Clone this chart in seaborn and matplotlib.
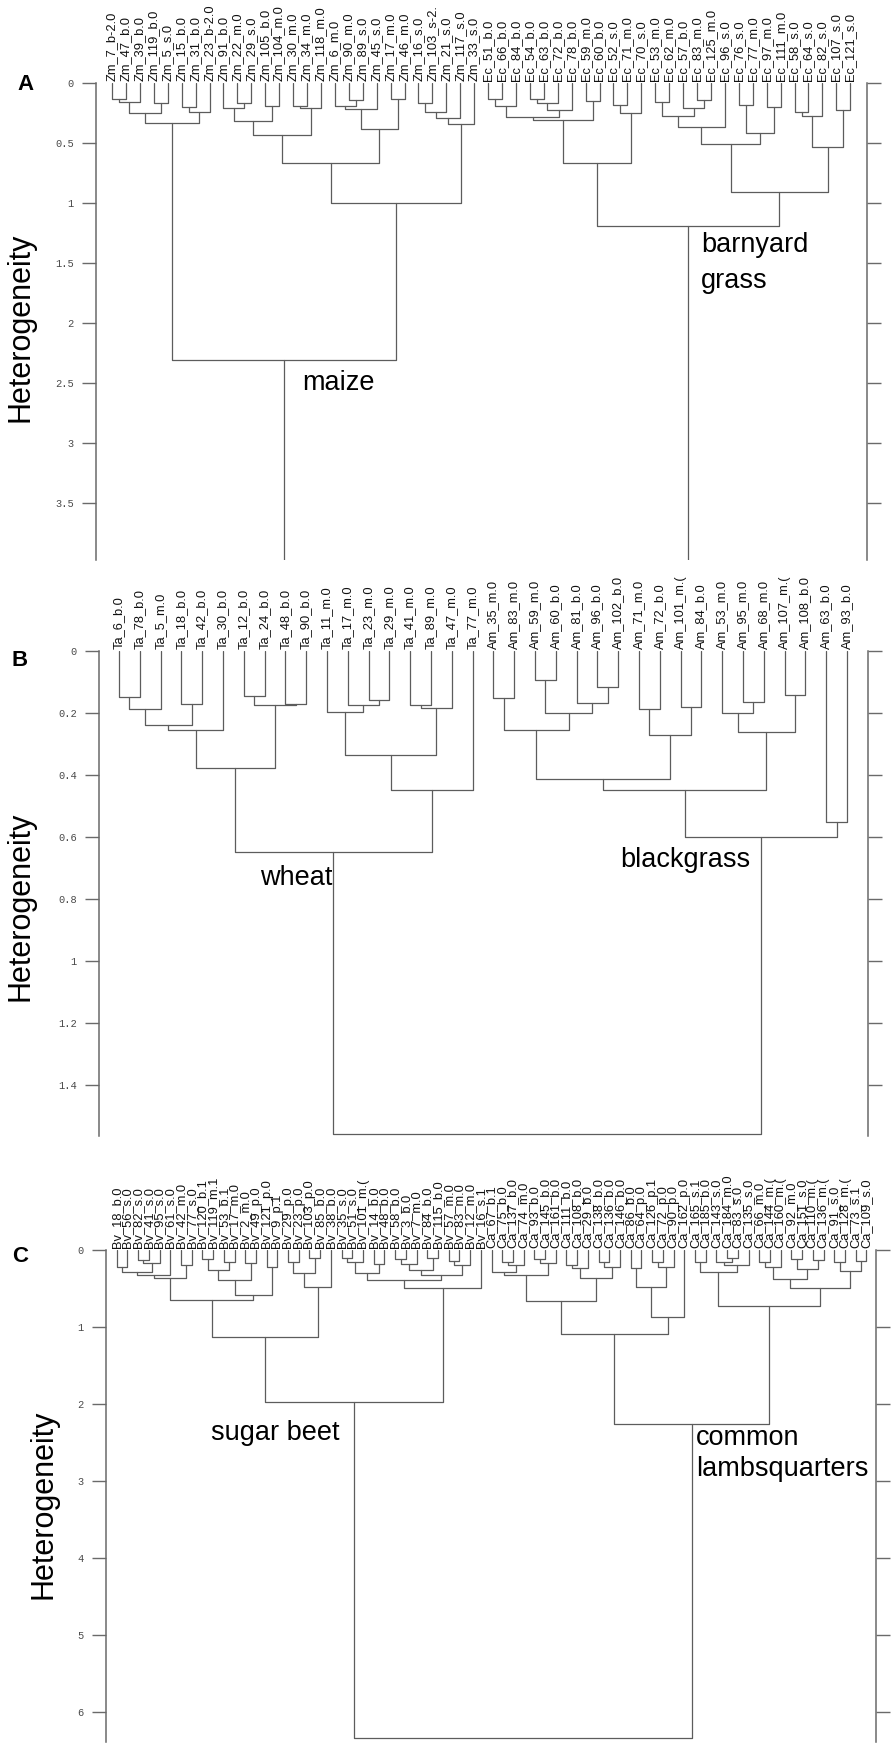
import matplotlib
matplotlib.use("Agg")
import matplotlib.pyplot as plt
from matplotlib.transforms import offset_copy
import seaborn as sns
import pandas as pd

# ---------------- data ----------------
maize_leaves = ["Zm_7_b-2.0", "Zm_47_b.0", "Zm_39_b.0", "Zm_119_b.0", "Zm_5_s.0", "Zm_15_b.0",
                "Zm_31_b.0", "Zm_23_b-2.0", "Zm_91_b.0", "Zm_22_m.0", "Zm_29_s.0", "Zm_105_b.0",
                "Zm_104_m.0", "Zm_30_m.0", "Zm_34_m.0", "Zm_118_m.0", "Zm_6_m.0", "Zm_90_m.0",
                "Zm_89_s.0", "Zm_45_s.0", "Zm_17_m.0", "Zm_46_m.0", "Zm_16_s.0", "Zm_103_s-2.",
                "Zm_21_s.0", "Zm_117_s.0", "Zm_33_s.0"]
barnyard_leaves = ["Ec_51_b.0", "Ec_66_b.0", "Ec_84_b.0", "Ec_54_b.0", "Ec_63_b.0", "Ec_72_b.0",
                   "Ec_78_b.0", "Ec_59_m.0", "Ec_60_b.0", "Ec_52_s.0", "Ec_71_m.0", "Ec_70_s.0",
                   "Ec_53_m.0", "Ec_62_m.0", "Ec_57_b.0", "Ec_83_m.0", "Ec_125_m.0", "Ec_96_s.0",
                   "Ec_76_s.0", "Ec_77_m.0", "Ec_97_m.0", "Ec_111_m.0", "Ec_58_s.0", "Ec_64_s.0",
                   "Ec_82_s.0", "Ec_107_s.0", "Ec_121_s.0"]
wheat_leaves = ["Ta_6_b.0", "Ta_78_b.0", "Ta_5_m.0", "Ta_18_b.0", "Ta_42_b.0", "Ta_30_b.0",
                "Ta_12_b.0", "Ta_24_b.0", "Ta_48_b.0", "Ta_90_b.0", "Ta_11_m.0", "Ta_17_m.0",
                "Ta_23_m.0", "Ta_29_m.0", "Ta_41_m.0", "Ta_89_m.0", "Ta_47_m.0", "Ta_77_m.0"]
blackgrass_leaves = ["Am_35_m.0", "Am_83_m.0", "Am_59_m.0", "Am_60_b.0", "Am_81_b.0", "Am_96_b.0",
                     "Am_102_b.0", "Am_71_m.0", "Am_72_b.0", "Am_101_m.(", "Am_84_b.0", "Am_53_m.0",
                     "Am_95_m.0", "Am_68_m.0", "Am_107_m.(", "Am_108_b.0", "Am_63_b.0", "Am_93_b.0"]
beet_leaves = ["Bv_18_b.0", "Bv_56_s.0", "Bv_82_s.0", "Bv_41_s.0", "Bv_95_s.0", "Bv_61_s.0",
               "Bv_42_m.0", "Bv_77_s.0", "Bv_120_b.1", "Bv_119_m.1", "Bv_53_b.1", "Bv_17_m.0",
               "Bv_2_m.0", "Bv_49_p.0", "Bv_121_p.0", "Bv_9_p.1", "Bv_29_p.0", "Bv_23_p.0",
               "Bv_103_p.0", "Bv_85_b.0", "Bv_38_b.0", "Bv_35_s.0", "Bv_51_s.0", "Bv_101_m.(",
               "Bv_14_b.0", "Bv_48_b.0", "Bv_58_b.0", "Bv_3_b.0", "Bv_7_m.0", "Bv_84_b.0",
               "Bv_115_b.0", "Bv_57_m.0", "Bv_83_m.0", "Bv_12_m.0", "Bv_16_s.1"]
lambs_leaves = ["Ca_67_b.1", "Ca_75_b.0", "Ca_137_b.0", "Ca_74_m.0", "Ca_93_b.0", "Ca_145_b.0",
                "Ca_161_b.0", "Ca_111_b.0", "Ca_108_b.0", "Ca_29_b.0", "Ca_138_b.0", "Ca_136_b.0",
                "Ca_146_b.0", "Ca_86_b.0", "Ca_64_p.0", "Ca_126_p.1", "Ca_72_p.0", "Ca_90_p.0",
                "Ca_162_p.0", "Ca_165_s.1", "Ca_185_b.0", "Ca_143_s.0", "Ca_184_m.0", "Ca_83_s.0",
                "Ca_135_s.0", "Ca_66_m.0", "Ca_144_m.(", "Ca_160_m.(", "Ca_92_m.0", "Ca_151_s.0",
                "Ca_110_m.(", "Ca_136_m.(", "Ca_91_s.0", "Ca_128_m.(", "Ca_73_s.1", "Ca_109_s.0"]

# merges: (first leaf, split leaf, end leaf (exclusive), heterogeneity)
merges_A = [(0, 1, 2, 0.13), (0, 2, 3, 0.155), (3, 4, 5, 0.17), (0, 3, 5, 0.25), (5, 6, 7, 0.20),
            (5, 7, 8, 0.24), (0, 5, 8, 0.33), (9, 10, 11, 0.17), (8, 9, 11, 0.21), (11, 12, 13, 0.19),
            (8, 11, 13, 0.32), (13, 14, 15, 0.19), (13, 15, 16, 0.21), (8, 13, 16, 0.43),
            (17, 18, 19, 0.14), (16, 17, 19, 0.19), (16, 19, 20, 0.22), (20, 21, 22, 0.13),
            (16, 20, 22, 0.38), (8, 16, 22, 0.67), (22, 23, 24, 0.17), (22, 24, 25, 0.24),
            (22, 25, 26, 0.29), (22, 26, 27, 0.34), (8, 22, 27, 1.0), (0, 8, 27, 2.31),
            (27, 28, 29, 0.137), (27, 29, 30, 0.19), (30, 31, 32, 0.136), (30, 32, 33, 0.17),
            (30, 33, 34, 0.225), (27, 30, 34, 0.28), (34, 35, 36, 0.147), (27, 34, 36, 0.31),
            (36, 37, 38, 0.183), (36, 38, 39, 0.253), (27, 36, 39, 0.67), (39, 40, 41, 0.155),
            (42, 43, 44, 0.14), (41, 42, 44, 0.21), (39, 41, 44, 0.275), (39, 44, 45, 0.37),
            (45, 46, 47, 0.183), (47, 48, 49, 0.20), (45, 47, 49, 0.414), (39, 45, 49, 0.508),
            (49, 50, 51, 0.239), (49, 51, 52, 0.275), (52, 53, 54, 0.225), (49, 52, 54, 0.53),
            (39, 49, 54, 0.91), (27, 39, 54, 1.19), (0, 27, 54, 4.3)]

merges_B = [(0, 1, 2, 0.149), (0, 2, 3, 0.187), (3, 4, 5, 0.172), (0, 3, 5, 0.240), (0, 5, 6, 0.255),
            (6, 7, 8, 0.145), (8, 9, 10, 0.170), (6, 8, 10, 0.174), (0, 6, 10, 0.378),
            (12, 13, 14, 0.158), (11, 12, 14, 0.175), (10, 11, 14, 0.198), (14, 15, 16, 0.174),
            (14, 16, 17, 0.185), (10, 14, 17, 0.335), (10, 17, 18, 0.448), (0, 10, 18, 0.647),
            (18, 19, 20, 0.153), (20, 21, 22, 0.094), (23, 24, 25, 0.115), (22, 23, 25, 0.169),
            (20, 22, 25, 0.201), (18, 20, 25, 0.255), (25, 26, 27, 0.187), (27, 28, 29, 0.180),
            (25, 27, 29, 0.271), (18, 25, 29, 0.412), (30, 31, 32, 0.166), (29, 30, 32, 0.201),
            (32, 33, 34, 0.143), (29, 32, 34, 0.262), (18, 29, 34, 0.448), (34, 35, 36, 0.553),
            (18, 34, 36, 0.599), (0, 18, 36, 1.56)]

merges_C = [(0, 1, 2, 0.22), (2, 3, 4, 0.13), (2, 4, 5, 0.17), (0, 2, 5, 0.28), (0, 5, 6, 0.32),
            (6, 7, 8, 0.19), (0, 6, 8, 0.36), (8, 9, 10, 0.12), (10, 11, 12, 0.15), (8, 10, 12, 0.26),
            (12, 13, 14, 0.17), (8, 12, 14, 0.39), (14, 15, 16, 0.22), (8, 14, 16, 0.58),
            (0, 8, 16, 0.65), (16, 17, 18, 0.16), (18, 19, 20, 0.10), (16, 18, 20, 0.30),
            (16, 20, 21, 0.48), (0, 16, 21, 1.13), (21, 22, 23, 0.10), (21, 23, 24, 0.16),
            (24, 25, 26, 0.18), (21, 24, 26, 0.30), (26, 27, 28, 0.12), (26, 28, 29, 0.18),
            (29, 30, 31, 0.10), (26, 29, 31, 0.26), (31, 32, 33, 0.14), (31, 33, 34, 0.20),
            (26, 31, 34, 0.33), (21, 26, 34, 0.39), (21, 34, 35, 0.50), (0, 21, 35, 1.98),
            (36, 37, 38, 0.15), (36, 38, 39, 0.20), (35, 36, 39, 0.28), (39, 40, 41, 0.12),
            (39, 41, 42, 0.17), (35, 39, 42, 0.33), (42, 43, 44, 0.20), (42, 44, 45, 0.24),
            (45, 46, 47, 0.16), (45, 47, 48, 0.22), (42, 45, 48, 0.36), (35, 42, 48, 0.665),
            (48, 49, 50, 0.24), (50, 51, 52, 0.15), (50, 52, 53, 0.22), (48, 50, 53, 0.48),
            (48, 53, 54, 0.87), (35, 48, 54, 1.09), (54, 55, 56, 0.15), (57, 58, 59, 0.10),
            (56, 57, 59, 0.16), (56, 59, 60, 0.20), (54, 56, 60, 0.29), (60, 61, 62, 0.15),
            (60, 62, 63, 0.22), (63, 64, 65, 0.12), (65, 66, 67, 0.13), (63, 65, 67, 0.25),
            (60, 63, 67, 0.38), (67, 68, 69, 0.16), (69, 70, 71, 0.14), (67, 69, 71, 0.27),
            (60, 67, 71, 0.50), (54, 60, 71, 0.73), (35, 54, 71, 2.26), (0, 35, 71, 6.34)]

yticks_A = [0, 0.5, 1, 1.5, 2, 2.5, 3, 3.5]
yticks_B = [0, 0.2, 0.4, 0.6, 0.8, 1, 1.2, 1.4]
yticks_C = [0, 1, 2, 3, 4, 5, 6]

# ---------------- helpers ----------------
W, H = 892, 1743
LINE = "#5c5c5c"


def dendro_frame(n, merges):
    pos = {(i, i + 1): (float(i), 0.0) for i in range(n)}
    rows = []
    for k, (a, s, b, h) in enumerate(sorted(merges, key=lambda m: m[2] - m[0])):
        xl, hl = pos[(a, s)]
        xr, hr = pos[(s, b)]
        rows += [(k, xl, hl), (k, xl, h), (k, xr, h), (k, xr, hr)]
        pos[(a, b)] = ((xl + xr) / 2, h)
    return pd.DataFrame(rows, columns=["seg", "x", "h"])


def fmt(v):
    return ("%g" % v)


sns.set_theme(style="white")
plt.rcParams["font.family"] = ["Liberation Sans", "DejaVu Sans"]

fig = plt.figure(figsize=(W / 100, H / 100), dpi=100, facecolor="white")


def panel(box, leaves, merges, xlim, ylim_bottom, yticks, letter, letter_xy, ylabel_xy, annotations):
    l, r, t, b = box
    ax = fig.add_axes([l / W, 1 - b / H, (r - l) / W, (b - t) / H])
    df = dendro_frame(len(leaves), merges)
    sns.lineplot(data=df, x="x", y="h", units="seg", estimator=None, sort=False,
                 color=LINE, linewidth=0.9, ax=ax, legend=False)
    ax.set_xlim(*xlim)
    ax.set_ylim(ylim_bottom, 0)
    ax.set_xlabel("")
    ax.set_ylabel("")
    ax.set_xticks([])
    ax.set_yticks(yticks)
    ax.set_yticklabels([fmt(v) for v in yticks], fontfamily="Liberation Mono", fontsize=7.5,
                       color="#4a4a4a")
    for side in ("top", "bottom"):
        ax.spines[side].set_visible(False)
    for side in ("left", "right"):
        ax.spines[side].set_color("#6a6a6a")
        ax.spines[side].set_linewidth(1.1)
    ax.tick_params(axis="y", which="both", left=True, right=True, direction="out",
                   length=10, width=1.0, color="#6a6a6a", pad=6, labelleft=True, labelright=False)
    ax.set_facecolor("white")
    tr = offset_copy(ax.transData, fig=fig, y=2, units="dots")
    for i, lab in enumerate(leaves):
        ax.text(i, 0, lab, rotation=90, ha="center", va="bottom", fontsize=9.3,
                color="#111111", transform=tr, clip_on=False)
    fig.text(letter_xy[0] / W, 1 - letter_xy[1] / H, letter, ha="center", va="center",
             fontsize=16, fontweight="bold", color="black")
    fig.text(ylabel_xy[0] / W, 1 - ylabel_xy[1] / H, "Heterogeneity", rotation=90,
             ha="center", va="center", fontsize=22, color="black")
    for (x, y, s) in annotations:
        ax.text(x, y, s, ha="left", va="baseline", fontsize=19.5, color="black")
    return ax


# Panel A
panel((96, 867, 83, 560), maize_leaves + barnyard_leaves, merges_A,
      (-1.149, 54.2), 3.975, yticks_A, "A", (25, 84), (21, 327),
      [(13.64, 2.56, "maize"), (42.28, 1.405, "barnyard"), (42.28, 1.71, "grass")])

# Panel B
panel((99, 868, 651, 1136), wheat_leaves + blackgrass_leaves, merges_B,
      (-0.96, 36.01), 1.565, yticks_B, "B", (20, 660), (21, 906),
      [(6.78, 0.755, "wheat"), (24.09, 0.696, "blackgrass")])

# Panel C
panel((105.5, 876, 1250, 1742), beet_leaves + lambs_leaves, merges_C,
      (-1.046, 70.9), 6.39, yticks_C, "C", (20, 1256), (44, 1504),
      [(8.8, 2.47, "sugar beet"), (54.09, 2.53, "common"), (54.09, 2.94, "lambsquarters")])

fig.savefig("out.png", dpi=100, facecolor="white")
